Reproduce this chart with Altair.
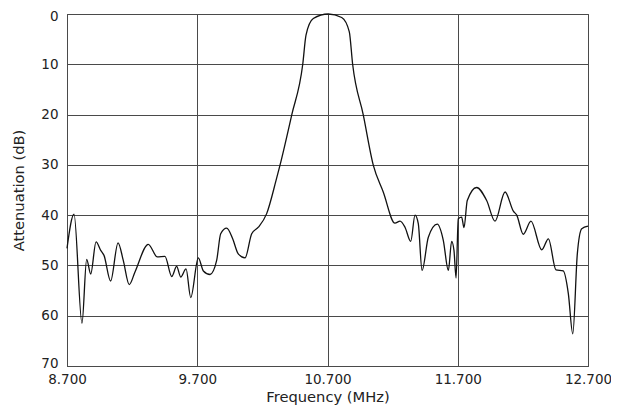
import altair as alt
import pandas as pd

freq = [8.700, 8.754, 8.815, 8.851, 8.882, 8.923, 8.959, 8.984, 9.035, 9.092, 9.132, 9.178, 9.222,
        9.324, 9.393, 9.452, 9.504, 9.542, 9.573, 9.614, 9.650, 9.708, 9.747, 9.798, 9.849, 9.880,
        9.926, 9.972, 10.015, 10.067, 10.118, 10.169, 10.233, 10.305, 10.335, 10.425, 10.510, 10.535,
        10.591, 10.706, 10.809, 10.867, 10.893, 10.975, 11.052, 11.128, 11.218, 11.257, 11.295, 11.339,
        11.372, 11.397, 11.426, 11.474, 11.543, 11.589, 11.628, 11.653, 11.671, 11.687, 11.704, 11.730,
        11.748, 11.773, 11.845, 11.922, 11.986, 12.063, 12.127, 12.153, 12.203, 12.262, 12.345, 12.396,
        12.454, 12.510, 12.549, 12.583, 12.618, 12.652, 12.700]
atten = [46.6, 39.8, 61.5, 48.8, 51.7, 45.3, 47.0, 48.0, 53.1, 45.5, 49.0, 53.8, 51.3,
         45.8, 48.3, 48.2, 52.2, 50.2, 52.3, 50.7, 56.4, 48.5, 51.1, 51.8, 49.0, 43.7,
         42.6, 44.7, 47.7, 48.5, 43.7, 42.4, 39.7, 33.1, 30.1, 20.1, 10.0, 4.2,
         0.9, 0.0, 0.7, 3.5, 10.0, 20.1, 30.1, 35.4, 41.6, 41.2, 42.4, 45.2,
         40.0, 41.7, 51.0, 44.4, 41.8, 45.0, 51.0, 45.2, 47.0, 52.5, 40.7, 40.4,
         42.5, 37.1, 34.5, 37.1, 41.2, 35.4, 39.2, 40.0, 43.8, 41.2, 46.9, 44.7,
         50.9, 51.1, 55.6, 63.6, 47.7, 42.7, 42.2]

x_ticks = [8.7, 9.7, 10.7, 11.7, 12.7]
y_ticks = [0, 10, 20, 30, 40, 50, 60, 70]

df = pd.DataFrame({"freq": freq, "atten": atten})

FONT = "DejaVu Sans"
GRID = "#4a4a4a"
TXT = "#222222"

chart = alt.Chart(df).mark_line(color="#111111", strokeWidth=1.3, interpolate="monotone").encode(
    x=alt.X("freq:Q", scale=alt.Scale(domain=[8.7, 12.7], nice=False, zero=False),
            axis=alt.Axis(values=x_ticks, format=".3f", title="Frequency (MHz)", ticks=False,
                          labelPadding=6, titlePadding=4, grid=True, gridColor=GRID,
                          domainColor=GRID, labelFont=FONT, titleFont=FONT, labelFontSize=13.5,
                          titleFontSize=14.7, titleFontWeight="normal", labelColor=TXT,
                          titleColor=TXT, labelFlush=False)),
    y=alt.Y("atten:Q", scale=alt.Scale(domain=[0, 70], reverse=True, nice=False),
            axis=alt.Axis(values=y_ticks, title="Attenuation (dB)", ticks=False,
                          labelPadding=9, titlePadding=14, grid=True, gridColor=GRID,
                          domainColor=GRID, labelFont=FONT, titleFont=FONT, labelFontSize=13.5,
                          titleFontSize=14.7, titleFontWeight="normal", labelColor=TXT,
                          titleColor=TXT, labelFlush=False,
                          labelOffset={"condition": [{"test": "datum.value == 70", "value": -3},
                                                     {"test": "datum.value == 0", "value": 2}],
                                       "value": 0})),
).properties(
    width=521, height=352,
    autosize=alt.AutoSizeParams(type="none"),
    padding={"left": 59, "top": 6, "right": 23, "bottom": 41},
).configure_view(stroke=GRID, strokeWidth=1).configure_axis(gridOpacity=1, gridWidth=1, domainWidth=1)

chart.save("out.html", embed_options={"renderer": "svg", "actions": False})
